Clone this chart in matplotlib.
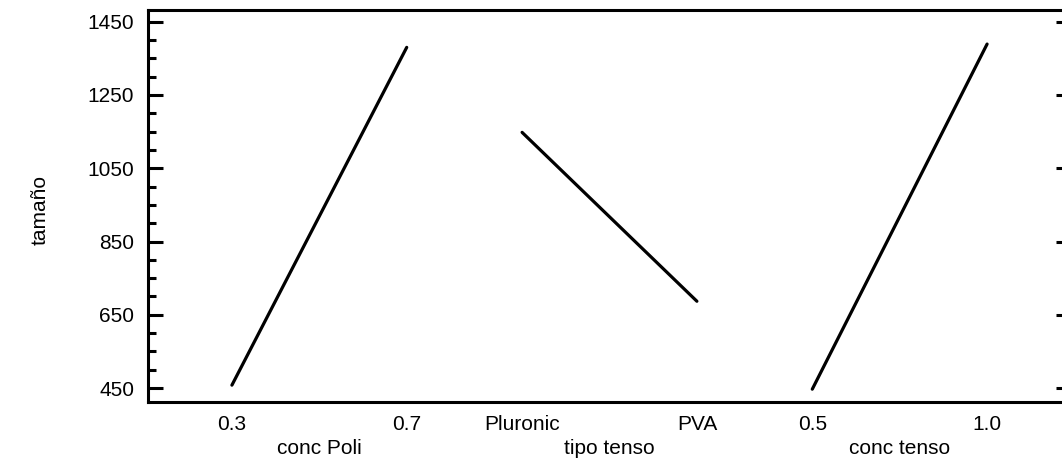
#!/usr/bin/env python3
"""Main effects plot for particle size (tamaño)."""

import matplotlib

matplotlib.use("Agg")
import matplotlib.pyplot as plt
from matplotlib.ticker import MultipleLocator

plt.rcParams["font.family"] = ["Liberation Sans", "DejaVu Sans"]

FACTORS = ["conc Poli", "tipo tenso", "conc tenso"]
LEVEL_LABELS = [["0.3", "0.7"], ["Pluronic", "PVA"], ["0.5", "1.0"]]
SIZE_LOW = [458, 1148, 447]
SIZE_HIGH = [1380, 687, 1389]

Y_TICKS = [450, 650, 850, 1050, 1250, 1450]

# each factor gets a unit-wide slot; slots are spaced apart along x
SLOT_STEP = 1.66
MARGIN = 0.48
FS = 15

W, H = 1062, 463
fig = plt.figure(figsize=(W / 100, H / 100), dpi=100)
ax = fig.add_axes([148 / W, (H - 402) / H, (1071 - 148) / W, (402 - 10) / H])

tick_pos, tick_txt = [], []
for i, name in enumerate(FACTORS):
    x0 = i * SLOT_STEP
    x1 = x0 + 1
    ax.plot([x0, x1], [SIZE_LOW[i], SIZE_HIGH[i]], color="black",
            linewidth=2.3, solid_capstyle="round")
    tick_pos += [x0, x1]
    tick_txt += LEVEL_LABELS[i]
    ax.annotate(name, xy=((x0 + x1) / 2, 0), xycoords=ax.get_xaxis_transform(),
                xytext=(0, -26.5), textcoords="offset points",
                ha="center", va="top", fontsize=FS)

ax.set_xlim(-MARGIN, 2 * SLOT_STEP + 1 + MARGIN)
ax.set_ylim(412, 1482)

ax.set_xticks(tick_pos)
ax.set_xticklabels(tick_txt, fontsize=FS)
ax.tick_params(axis="x", length=0, pad=9)

ax.set_yticks(Y_TICKS)
ax.yaxis.set_minor_locator(MultipleLocator(50))
ax.tick_params(axis="y", which="both", direction="in", right=True,
               labelsize=FS, width=2.2, pad=10)
ax.tick_params(axis="y", which="major", length=10.5)
ax.tick_params(axis="y", which="minor", length=5.5)

for side in ["left", "right", "top", "bottom"]:
    ax.spines[side].set_linewidth(2.2)

fig.text(40 / W, 1 - 210 / H, "tamaño", rotation=90, ha="center",
         va="center", fontsize=FS)

fig.savefig("out.png", dpi=100)
